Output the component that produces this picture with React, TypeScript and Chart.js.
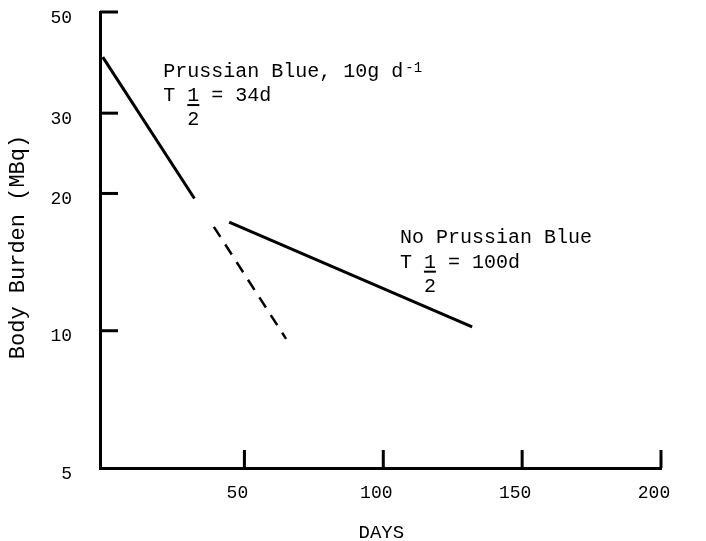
import React, { useEffect, useRef } from "react";
import { Chart, registerables } from "chart.js";

Chart.register(...registerables);

// ---- data ----
const pbDays = [-1, 32];
const pbBurden = [39.8, 19.5];
const extDays = [39, 65];
const extBurden = [16.9, 9.6];
const noPbDays = [44.5, 132];
const noPbBurden = [17.3, 10.2];

const xTicks = [50, 100, 150, 200];
const yTicks = [5, 10, 20, 30, 50];

const xTitle = "DAYS";
const yTitle = "Body Burden (MBq)";

const pbLabel = "Prussian Blue, 10g d";
const pbLabelSup = "-1";
const pbHalf = "T 1 = 34d";
const noPbLabel = "No Prussian Blue";
const noPbHalf = "T 1 = 100d";

const INK = "#000000";
const FONT = "'Liberation Mono', 'DejaVu Sans Mono', monospace";

const toPoints = (xs: number[], ys: number[]) => xs.map((x, i) => ({ x, y: ys[i] }));

const decorPlugin = {
  id: "decor",
  afterDraw(chart: any) {
    const ctx = chart.ctx as CanvasRenderingContext2D;
    const xs = chart.scales.x;
    const ys = chart.scales.y;
    const area = chart.chartArea;
    ctx.save();
    ctx.strokeStyle = INK;
    ctx.fillStyle = INK;
    ctx.lineWidth = 3;
    ctx.lineCap = "butt";
    // inward tick marks
    yTicks.forEach((v) => {
      if (v === 5) return;
      const py = ys.getPixelForValue(v);
      ctx.beginPath();
      ctx.moveTo(area.left, py);
      ctx.lineTo(area.left + 18, py);
      ctx.stroke();
    });
    xTicks.forEach((v) => {
      const px = xs.getPixelForValue(v);
      ctx.beginPath();
      ctx.moveTo(px, area.bottom);
      ctx.lineTo(px, area.bottom - 18);
      ctx.stroke();
    });

    // axis titles
    ctx.font = `19px ${FONT}`;
    ctx.textAlign = "center";
    ctx.textBaseline = "middle";
    ctx.fillText(xTitle, xs.getPixelForValue(100) - 2, 533);
    ctx.save();
    ctx.translate(18, 247);
    ctx.rotate(-Math.PI / 2);
    ctx.font = `22px ${FONT}`;
    ctx.fillText(yTitle, 0, 0);
    ctx.restore();

    // annotations
    const drawHalf = (text: string, x0: number, y0: number) => {
      ctx.font = `20px ${FONT}`;
      ctx.textAlign = "left";
      ctx.textBaseline = "alphabetic";
      ctx.fillText(text, x0, y0);
      const cw = ctx.measureText("T").width;
      ctx.lineWidth = 2;
      ctx.beginPath();
      ctx.moveTo(x0 + 2 * cw, y0 + 4);
      ctx.lineTo(x0 + 3 * cw, y0 + 4);
      ctx.stroke();
      ctx.fillText("2", x0 + 2 * cw, y0 + 24);
    };

    const pbX = xs.getPixelForValue(20.8);
    const pbY = ys.getPixelForValue(36);
    ctx.font = `20px ${FONT}`;
    ctx.textAlign = "left";
    ctx.textBaseline = "alphabetic";
    ctx.fillText(pbLabel, pbX, pbY);
    const w = ctx.measureText(pbLabel).width;
    ctx.font = `14px ${FONT}`;
    ctx.fillText(pbLabelSup, pbX + w + 2, pbY - 5);
    drawHalf(pbHalf, pbX, pbY + 24);

    const npX = xs.getPixelForValue(106);
    const npY = ys.getPixelForValue(15.6);
    ctx.font = `20px ${FONT}`;
    ctx.fillText(noPbLabel, npX, npY);
    drawHalf(noPbHalf, npX, npY + 25);

    ctx.restore();
  },
};

export default function App() {
  const ref = useRef<HTMLCanvasElement | null>(null);
  useEffect(() => {
    document.body.style.margin = "0";
    const canvas = ref.current!;
    const chart = new Chart(canvas, {
      type: "scatter",
      data: {
        datasets: [
          {
            label: "Prussian Blue",
            data: toPoints(pbDays, pbBurden),
            showLine: true,
            borderColor: INK,
            borderWidth: 3,
            pointRadius: 0,
          },
          {
            label: "Extrapolated",
            data: toPoints(extDays, extBurden),
            showLine: true,
            borderColor: INK,
            borderWidth: 2.5,
            borderDash: [12, 9],
            pointRadius: 0,
          },
          {
            label: "No Prussian Blue",
            data: toPoints(noPbDays, noPbBurden),
            showLine: true,
            borderColor: INK,
            borderWidth: 3,
            pointRadius: 0,
          },
        ],
      },
      options: {
        responsive: false,
        animation: false,
        devicePixelRatio: 1,
        layout: { padding: { top: 12, right: 45, left: 0, bottom: 0 } },
        plugins: { legend: { display: false }, tooltip: { enabled: false } },
        scales: {
          x: {
            type: "linear",
            min: -2,
            max: 200,
            grid: { display: false, drawTicks: false },
            border: { display: true, color: INK, width: 3 },
            afterBuildTicks: (s: any) => {
              s.ticks = xTicks.map((v) => ({ value: v }));
            },
            afterFit: (s: any) => {
              s.height = 73;
              s.paddingLeft = 0;
              s.paddingRight = 0;
            },
            ticks: {
              color: INK,
              font: { family: FONT, size: 18 },
              padding: 14,
              labelOffset: -7,
              maxRotation: 0,
              autoSkip: false,
            },
          },
          y: {
            type: "logarithmic",
            min: 5,
            max: 50,
            grid: { display: false, drawTicks: false },
            border: { display: true, color: INK, width: 3 },
            afterBuildTicks: (s: any) => {
              s.ticks = yTicks.map((v) => ({ value: v }));
            },
            afterFit: (s: any) => {
              s.width = 100;
              s.paddingTop = 0;
              s.paddingBottom = 0;
            },
            ticks: {
              color: INK,
              font: { family: FONT, size: 18 },
              padding: 28,
              labelOffset: 6,
              autoSkip: false,
              callback: (v: any) => String(v),
            },
          },
        },
      },
      plugins: [decorPlugin],
    });
    return () => chart.destroy();
  }, []);
  return (
    <div style={{ width: 706, height: 541, background: "#fff" }}>
      <canvas ref={ref} width={706} height={541} />
    </div>
  );
}
